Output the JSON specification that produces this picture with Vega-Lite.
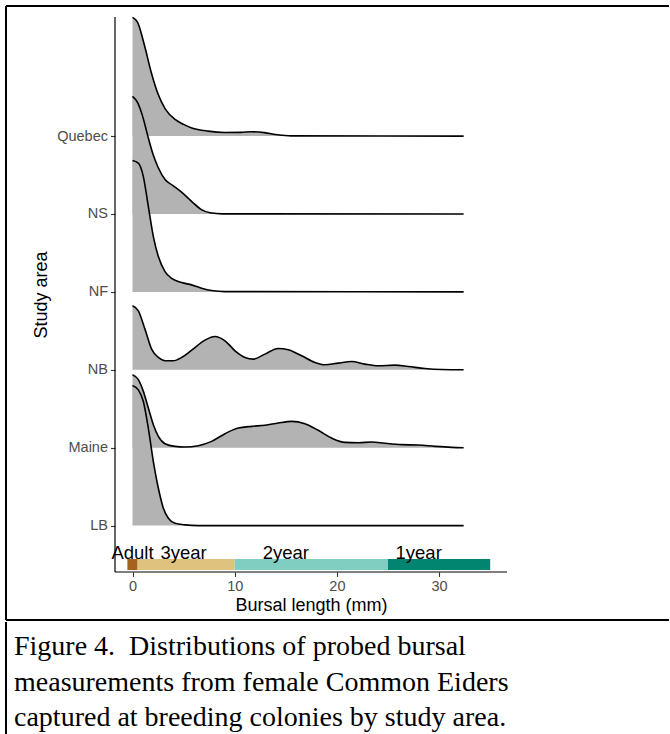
{
  "$schema": "https://vega.github.io/schema/vega-lite/v6.json",
  "padding": {"left": 5, "top": 5, "right": 0, "bottom": 0},
  "autosize": {"type": "pad"},
  "background": "white",
  "config": {"font": "Liberation Sans"},
  "spacing": 0,
  "datasets": {
    "ridges": [
      {"area":"Quebec","level":5,"mm":0,"top":6.524},
      {"area":"Quebec","level":5,"mm":0.5,"top":6.46},
      {"area":"Quebec","level":5,"mm":1.2,"top":6.15},
      {"area":"Quebec","level":5,"mm":1.85,"top":5.81},
      {"area":"Quebec","level":5,"mm":2.5,"top":5.54},
      {"area":"Quebec","level":5,"mm":3.2,"top":5.35},
      {"area":"Quebec","level":5,"mm":4.2,"top":5.21},
      {"area":"Quebec","level":5,"mm":5.0,"top":5.15},
      {"area":"Quebec","level":5,"mm":5.8,"top":5.105},
      {"area":"Quebec","level":5,"mm":7.4,"top":5.064},
      {"area":"Quebec","level":5,"mm":9.0,"top":5.047},
      {"area":"Quebec","level":5,"mm":10.6,"top":5.048},
      {"area":"Quebec","level":5,"mm":11.6,"top":5.056},
      {"area":"Quebec","level":5,"mm":12.9,"top":5.045},
      {"area":"Quebec","level":5,"mm":14.2,"top":5.017},
      {"area":"Quebec","level":5,"mm":15.5,"top":5.003},
      {"area":"Quebec","level":5,"mm":32.4,"top":5},
      {"area":"NS","level":4,"mm":0,"top":5.51},
      {"area":"NS","level":4,"mm":0.5,"top":5.43},
      {"area":"NS","level":4,"mm":1.0,"top":5.25},
      {"area":"NS","level":4,"mm":1.5,"top":5.0},
      {"area":"NS","level":4,"mm":2.0,"top":4.77},
      {"area":"NS","level":4,"mm":2.5,"top":4.6},
      {"area":"NS","level":4,"mm":3.2,"top":4.44},
      {"area":"NS","level":4,"mm":3.9,"top":4.37},
      {"area":"NS","level":4,"mm":4.8,"top":4.28},
      {"area":"NS","level":4,"mm":5.8,"top":4.16},
      {"area":"NS","level":4,"mm":6.7,"top":4.06},
      {"area":"NS","level":4,"mm":7.6,"top":4.015},
      {"area":"NS","level":4,"mm":8.8,"top":4.002},
      {"area":"NS","level":4,"mm":32.4,"top":4},
      {"area":"NF","level":3,"mm":0,"top":4.686},
      {"area":"NF","level":3,"mm":0.57,"top":4.652},
      {"area":"NF","level":3,"mm":1.06,"top":4.48},
      {"area":"NF","level":3,"mm":1.55,"top":4.095},
      {"area":"NF","level":3,"mm":2.04,"top":3.71},
      {"area":"NF","level":3,"mm":2.53,"top":3.454},
      {"area":"NF","level":3,"mm":3.18,"top":3.261},
      {"area":"NF","level":3,"mm":3.83,"top":3.175},
      {"area":"NF","level":3,"mm":4.81,"top":3.12},
      {"area":"NF","level":3,"mm":5.79,"top":3.09},
      {"area":"NF","level":3,"mm":6.76,"top":3.047},
      {"area":"NF","level":3,"mm":7.74,"top":3.017},
      {"area":"NF","level":3,"mm":9.05,"top":3.004},
      {"area":"NF","level":3,"mm":32.4,"top":3},
      {"area":"NB","level":2,"mm":0,"top":2.822},
      {"area":"NB","level":2,"mm":0.57,"top":2.757},
      {"area":"NB","level":2,"mm":1.22,"top":2.522},
      {"area":"NB","level":2,"mm":1.87,"top":2.265},
      {"area":"NB","level":2,"mm":2.53,"top":2.158},
      {"area":"NB","level":2,"mm":3.18,"top":2.116},
      {"area":"NB","level":2,"mm":3.99,"top":2.116},
      {"area":"NB","level":2,"mm":4.8,"top":2.158},
      {"area":"NB","level":2,"mm":5.79,"top":2.252},
      {"area":"NB","level":2,"mm":7.09,"top":2.381},
      {"area":"NB","level":2,"mm":8.07,"top":2.428},
      {"area":"NB","level":2,"mm":9.05,"top":2.372},
      {"area":"NB","level":2,"mm":10.03,"top":2.244},
      {"area":"NB","level":2,"mm":11.01,"top":2.158},
      {"area":"NB","level":2,"mm":11.82,"top":2.137},
      {"area":"NB","level":2,"mm":12.96,"top":2.201},
      {"area":"NB","level":2,"mm":14.26,"top":2.274},
      {"area":"NB","level":2,"mm":15.24,"top":2.257},
      {"area":"NB","level":2,"mm":16.55,"top":2.18},
      {"area":"NB","level":2,"mm":17.85,"top":2.094},
      {"area":"NB","level":2,"mm":18.83,"top":2.064},
      {"area":"NB","level":2,"mm":20.13,"top":2.086},
      {"area":"NB","level":2,"mm":21.44,"top":2.107},
      {"area":"NB","level":2,"mm":22.74,"top":2.073},
      {"area":"NB","level":2,"mm":24.05,"top":2.051},
      {"area":"NB","level":2,"mm":25.68,"top":2.06},
      {"area":"NB","level":2,"mm":26.98,"top":2.043},
      {"area":"NB","level":2,"mm":28.61,"top":2.017},
      {"area":"NB","level":2,"mm":30.24,"top":2.004},
      {"area":"NB","level":2,"mm":32.4,"top":2},
      {"area":"Maine","level":1,"mm":0,"top":1.937},
      {"area":"Maine","level":1,"mm":0.57,"top":1.873},
      {"area":"Maine","level":1,"mm":1.06,"top":1.723},
      {"area":"Maine","level":1,"mm":1.55,"top":1.509},
      {"area":"Maine","level":1,"mm":2.04,"top":1.295},
      {"area":"Maine","level":1,"mm":2.53,"top":1.145},
      {"area":"Maine","level":1,"mm":3.18,"top":1.051},
      {"area":"Maine","level":1,"mm":4.16,"top":1.017},
      {"area":"Maine","level":1,"mm":5.14,"top":1.009},
      {"area":"Maine","level":1,"mm":6.44,"top":1.026},
      {"area":"Maine","level":1,"mm":7.74,"top":1.081},
      {"area":"Maine","level":1,"mm":9.05,"top":1.18},
      {"area":"Maine","level":1,"mm":10.35,"top":1.252},
      {"area":"Maine","level":1,"mm":11.66,"top":1.274},
      {"area":"Maine","level":1,"mm":12.96,"top":1.287},
      {"area":"Maine","level":1,"mm":14.26,"top":1.317},
      {"area":"Maine","level":1,"mm":15.57,"top":1.338},
      {"area":"Maine","level":1,"mm":16.87,"top":1.308},
      {"area":"Maine","level":1,"mm":18.17,"top":1.223},
      {"area":"Maine","level":1,"mm":19.48,"top":1.124},
      {"area":"Maine","level":1,"mm":20.79,"top":1.068},
      {"area":"Maine","level":1,"mm":22.09,"top":1.064},
      {"area":"Maine","level":1,"mm":23.4,"top":1.073},
      {"area":"Maine","level":1,"mm":24.7,"top":1.056},
      {"area":"Maine","level":1,"mm":26.33,"top":1.039},
      {"area":"Maine","level":1,"mm":27.96,"top":1.034},
      {"area":"Maine","level":1,"mm":29.59,"top":1.017},
      {"area":"Maine","level":1,"mm":31.22,"top":1.004},
      {"area":"Maine","level":1,"mm":32.4,"top":1},
      {"area":"LB","level":0,"mm":0,"top":1.797},
      {"area":"LB","level":0,"mm":0.57,"top":1.742},
      {"area":"LB","level":0,"mm":1.06,"top":1.592},
      {"area":"LB","level":0,"mm":1.55,"top":1.249},
      {"area":"LB","level":0,"mm":2.04,"top":0.822},
      {"area":"LB","level":0,"mm":2.53,"top":0.479},
      {"area":"LB","level":0,"mm":3.02,"top":0.223},
      {"area":"LB","level":0,"mm":3.51,"top":0.094},
      {"area":"LB","level":0,"mm":4.16,"top":0.03},
      {"area":"LB","level":0,"mm":5.14,"top":0.009},
      {"area":"LB","level":0,"mm":6.44,"top":0},
      {"area":"LB","level":0,"mm":32.4,"top":0}
    ],
    "stages": [
      {"stage":"Adult","start":-0.5,"end":0.5,"label_x":0},
      {"stage":"3year","start":0.5,"end":10,"label_x":5},
      {"stage":"2year","start":10,"end":25,"label_x":15},
      {"stage":"1year","start":25,"end":35,"label_x":28}
    ],
    "caption": [
      {"line":1,"text":"Figure 4. \u00a0Distributions of probed bursal"},
      {"line":2,"text":"measurements from female Common Eiders"},
      {"line":3,"text":"captured at breeding colonies by study area."}
    ]
  },
  "vconcat": [
    {
      "width": 663,
      "height": 614,
      "view": {"stroke": null},
      "layer": [
        {
          "data": {"name": "ridges"},
          "mark": {"type": "area", "interpolate": "monotone", "color": "#B3B3B3", "opacity": 1, "fillOpacity": 1},
          "encoding": {
            "x": {"field": "mm", "type": "quantitative", "title": "Bursal length (mm)",
              "scale": {"domain": [-12.378, 52.495], "nice": false, "zero": false},
              "axis": {"orient": "bottom", "offset": -48, "values": [0, 10, 20, 30], "domain": false, "grid": false,
                "tickColor": "#333333", "tickSize": 4.5, "tickWidth": 1.1, "labelFontSize": 14.5, "labelColor": "#4D4D4D",
                "labelPadding": 3, "titleFontSize": 18, "titleFontWeight": "normal", "titleColor": "black", "titlePadding": 3, "titleX": 305}},
            "y": {"field": "top", "type": "quantitative", "title": "Study area",
              "scale": {"domain": [-1.212, 6.67], "nice": false, "zero": false},
              "axis": {"orient": "left", "offset": -109, "values": [0, 1, 2, 3, 4, 5], "domain": false, "grid": false,
                "labelExpr": "['LB','Maine','NB','NF','NS','Quebec'][datum.value]",
                "tickColor": "#333333", "tickSize": 4.5, "tickWidth": 1.1, "labelFontSize": 14.5, "labelColor": "#4D4D4D",
                "labelPadding": 3, "titleFontSize": 18, "titleFontWeight": "normal", "titleColor": "black", "titlePadding": 6, "titleY": 288.5}},
            "y2": {"field": "level"},
            "detail": {"field": "area"}
          }
        },
        {
          "data": {"name": "ridges"},
          "mark": {"type": "line", "interpolate": "monotone", "color": "black", "strokeWidth": 1.6},
          "encoding": {
            "x": {"field": "mm", "type": "quantitative", "title": "Bursal length (mm)"},
            "y": {"field": "top", "type": "quantitative", "title": "Study area"},
            "detail": {"field": "area"}
          }
        },
        {
          "data": {"name": "stages"},
          "mark": {"type": "rect"},
          "encoding": {
            "x": {"field": "start", "type": "quantitative", "title": "Bursal length (mm)"},
            "x2": {"field": "end"},
            "y": {"datum": -0.429, "type": "quantitative"},
            "y2": {"datum": -0.57},
            "color": {"field": "stage", "type": "nominal", "legend": null,
              "scale": {"domain": ["Adult", "3year", "2year", "1year"], "range": ["#A6611A", "#DFC27D", "#80CDC1", "#018571"]}}
          }
        },
        {
          "data": {"name": "stages"},
          "mark": {"type": "text", "align": "center", "baseline": "alphabetic", "fontSize": 18.5, "color": "black", "font": "Liberation Sans"},
          "encoding": {
            "x": {"field": "label_x", "type": "quantitative", "title": "Bursal length (mm)"},
            "y": {"datum": -0.429, "type": "quantitative"},
            "text": {"field": "stage"}
          }
        },
        {
          "data": {"values": [{}]},
          "mark": {"type": "rule", "color": "black", "strokeWidth": 1.2},
          "encoding": {
            "x": {"datum": -1.712, "type": "quantitative"},
            "y": {"datum": -0.596, "type": "quantitative"},
            "y2": {"datum": 6.529}
          }
        },
        {
          "data": {"values": [{}]},
          "mark": {"type": "rule", "color": "black", "strokeWidth": 1.2},
          "encoding": {
            "x": {"datum": -1.712, "type": "quantitative"},
            "x2": {"datum": 36.64},
            "y": {"datum": -0.596, "type": "quantitative"}
          }
        },
        {
          "data": {"values": [{}]},
          "mark": {"type": "rule", "color": "black", "strokeWidth": 2},
          "encoding": {
            "y": {"datum": 6.67, "type": "quantitative"}
          }
        },
        {
          "data": {"values": [{}]},
          "mark": {"type": "rule", "color": "black", "strokeWidth": 2},
          "encoding": {
            "y": {"datum": -1.212, "type": "quantitative"}
          }
        },
        {
          "data": {"values": [{}]},
          "mark": {"type": "rule", "color": "black", "strokeWidth": 2},
          "encoding": {
            "x": {"datum": -12.378, "type": "quantitative"}
          }
        }
      ]
    },
    {
      "width": 663,
      "height": 113,
      "view": {"stroke": null},
      "layer": [
        {
          "data": {"name": "caption"},
          "mark": {"type": "text", "align": "left", "baseline": "alphabetic", "font": "Liberation Serif", "fontSize": 28, "dx": 8, "dy": 12, "color": "black"},
          "encoding": {
            "x": {"datum": 0, "type": "quantitative", "scale": {"domain": [0, 1]}, "axis": null},
            "y": {"field": "line", "type": "ordinal", "scale": {"type": "point", "padding": 0.614}, "axis": null},
            "text": {"field": "text"}
          }
        },
        {
          "data": {"values": [{}]},
          "mark": {"type": "rule", "color": "black", "strokeWidth": 2},
          "encoding": {
            "x": {"datum": 0, "type": "quantitative"}
          }
        }
      ]
    }
  ]
}
